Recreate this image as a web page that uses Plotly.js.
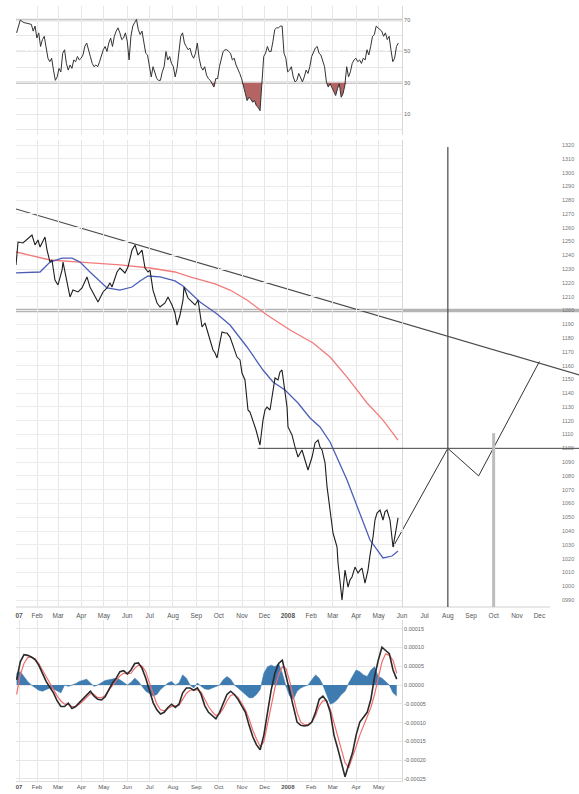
<!DOCTYPE html>
<html><head><meta charset="utf-8">
<script src="https://cdn.plot.ly/plotly-3.0.1.min.js"></script>
<style>html,body{margin:0;padding:0;background:#fff}#chart{width:579px;height:794px}</style>
</head><body><div id="chart"></div>
<script>
// ---------- DATA ----------
// time is given as days since 2007-01-01
const priceDay = [
 3, 5.7, 12.3, 24.3, 28.3, 32.3, 35, 41.6, 44.3, 48.3,
 50.9, 54.9, 58.9, 64.3, 65.6, 70.9, 74.9, 78.9, 85.6, 90.9,
 97.5, 101.5, 108.2, 112.2, 118.9, 124.2, 128.2, 130.8, 137.5, 141.5,
 148.1, 152.1, 157.5, 161.5, 165.5, 170.8, 174.8, 178.8, 181.4, 185.4,
 190.8, 194.8, 201.4, 205.4, 210.7, 214.7, 217.4, 221.4, 225.4, 226.7,
 232, 237.4, 241.4, 245.4, 250.7, 254.7, 257.3, 261.3, 265.3, 268,
 270.7, 274.6, 277.3, 281.3, 284, 288, 290.6, 294.6, 297.3, 301.3,
 303.9, 307.9, 311.9, 314.6, 318.6, 322.6, 327.9, 331.9, 334.6, 337.2,
 341.2, 343.9, 347.9, 351.9, 354.5, 357.2, 361.2, 363.9, 365.2, 370.5,
 374.5, 378.5, 383.8, 387.8, 391.8, 397.2, 401.2, 405.2, 407.8, 410.5,
 414.5, 417.2, 421.2, 425.1, 427.8, 430.5, 431.8, 434.4, 437.1, 441.1,
 445.1, 447.7, 450.4, 454.4, 458.4, 461.1, 463.7, 467.7, 471.7, 474.4,
 477.1, 478.4, 481, 483.7, 487.7, 491.7, 494.3, 497, 501, 505,
 509, 511.7];
const priceVal = [
 1233.0, 1249.6, 1248.9, 1254.7, 1247.5, 1251.1, 1246.0, 1253.3, 1243.8, 1235.1,
 1236.6, 1222.1, 1218.5, 1229.3, 1235.1, 1222.1, 1209.8, 1214.8, 1213.4, 1216.3,
 1224.3, 1217.0, 1209.8, 1206.1, 1213.4, 1216.3, 1220.0, 1217.0, 1227.9, 1230.8,
 1227.2, 1231.5, 1243.8, 1247.5, 1240.2, 1243.8, 1230.8, 1227.9, 1229.3, 1214.8,
 1205.4, 1202.5, 1205.4, 1209.8, 1204.0, 1198.2, 1189.4, 1196.7, 1207.6, 1217.0,
 1209.0, 1206.1, 1204.0, 1207.6, 1188.0, 1190.9, 1185.8, 1178.6, 1171.3, 1169.1,
 1165.5, 1177.1, 1184.4, 1183.6, 1183.6, 1180.7, 1176.4, 1169.1, 1166.2, 1164.1,
 1154.6, 1149.6, 1127.8, 1126.3, 1120.5, 1113.3, 1102.4, 1120.5, 1127.8, 1129.9,
 1127.8, 1138.7, 1151.0, 1149.6, 1155.4, 1156.8, 1140.1, 1129.9, 1115.5, 1109.7,
 1101.0, 1093.7, 1098.8, 1091.5, 1084.3, 1093.7, 1103.9, 1106.0, 1101.0, 1098.8,
 1089.4, 1072.0, 1053.1, 1038.6, 1033.5, 1028.4, 1016.8, 1004.5, 990.0, 1011.7,
 999.4, 1004.5, 1006.7, 1013.9, 1009.6, 1011.7, 1013.2, 1002.3, 1011.7, 1022.6,
 1031.3, 1035.7, 1048.0, 1053.1, 1055.3, 1048.0, 1053.9, 1055.3, 1048.0, 1028.4,
 1040.8, 1049.5];

const maShortDay = [3, 35, 48.3, 64.3, 77.6, 88.2, 101.5, 124.2, 141.5, 157.5, 168.1, 178.8, 194.8, 214.7, 225.4, 248, 270.7, 288, 310.6, 331.9, 345.2, 361.2, 378.5, 394.5, 407.8, 421.2, 443.8, 461.1, 474.4, 491.7, 503.7, 511.7];
const maShortVal = [1227.2, 1227.9, 1235.1, 1238.0, 1238.0, 1235.1, 1227.9, 1216.3, 1214.8, 1217.0, 1221.4, 1225.0, 1224.3, 1221.4, 1217.7, 1206.1, 1197.4, 1189.4, 1173.5, 1156.8, 1148.1, 1142.3, 1132.9, 1122.0, 1115.5, 1104.6, 1077.0, 1053.1, 1033.5, 1020.5, 1021.9, 1025.5];

const maLongDay = [3, 48.3, 88.2, 141.5, 181.4, 214.7, 234.7, 268, 288, 310.6, 337.2, 367.9, 398.5, 421.2, 443.8, 470.4, 491.7, 511.7];
const maLongVal = [1242.4, 1236.6, 1235.1, 1233.0, 1230.8, 1227.9, 1224.3, 1219.2, 1214.8, 1207.6, 1196.7, 1185.8, 1176.4, 1166.2, 1151.7, 1132.9, 1120.5, 1106.0];

const trendDates = ['2007-01-04', '2009-01-23'];
const trendVals = [1273.6, 1153.2];
const projDates = ['2008-05-20', '2008-08-01', '2008-09-11', '2008-12-01'];
const projVals = [1028.4, 1100, 1080, 1163];
const supportLevel = 1100, supportFrom = '2007-11-22';
const resistLevel = 1200;
const markAug = '2008-08-01', markAugTop = 1318.5;
const markOct = '2008-10-01', markOctTop = 1111;

// RSI readings, one every 2.4555 days from day 3.8
const rsiFirstDay = 3.8, rsiEveryDays = 2.4555;
const rsiVal = [
 61.8, 66.1, 70.0, 69.1, 68.3, 68.1, 67.8, 67.6, 67.2, 62.9,
 66.1, 58.5, 61.8, 53.1, 57.5, 59.6, 53.1, 45.6, 43.4, 45.6,
 38.0, 31.5, 33.7, 39.1, 36.9, 48.8, 51.0, 42.3, 38.0, 41.3,
 39.1, 44.5, 43.4, 46.7, 44.5, 45.6, 47.7, 53.1, 55.3, 49.9,
 46.7, 42.3, 40.2, 41.3, 40.2, 43.4, 47.1, 51.0, 53.1, 49.9,
 55.3, 58.5, 53.1, 59.6, 62.9, 65.0, 61.8, 57.5, 58.5, 61.8,
 56.4, 44.5, 59.6, 66.1, 68.3, 70.4, 63.9, 60.7, 62.9, 55.3,
 48.8, 47.7, 40.2, 33.7, 40.2, 35.9, 32.6, 31.5, 31.5, 36.9,
 40.2, 49.9, 44.5, 46.7, 42.3, 40.2, 33.7, 39.1, 51.0, 59.6,
 61.8, 55.3, 53.1, 51.0, 52.1, 47.7, 45.6, 48.8, 55.3, 45.6,
 40.2, 38.0, 40.2, 34.8, 32.6, 31.5, 29.4, 27.2, 32.6, 32.6,
 40.2, 45.6, 49.9, 51.0, 51.0, 49.9, 48.8, 44.5, 45.6, 41.3,
 39.1, 35.9, 32.6, 28.3, 22.9, 18.6, 20.7, 19.6, 17.5, 18.6,
 15.3, 14.2, 12.1, 29.4, 46.7, 48.8, 53.1, 49.9, 49.9, 56.4,
 63.9, 65.0, 65.0, 66.1, 66.1, 48.8, 45.6, 36.9, 38.0, 40.2,
 33.7, 30.5, 31.5, 35.9, 33.7, 30.5, 33.7, 38.0, 35.9, 40.2,
 46.7, 49.9, 52.1, 53.1, 48.8, 47.7, 43.4, 40.2, 30.5, 27.2,
 29.4, 27.2, 24.0, 21.8, 26.1, 29.4, 20.7, 22.9, 28.3, 40.2,
 33.7, 36.9, 42.3, 44.5, 45.6, 43.4, 44.5, 42.3, 45.6, 44.5,
 51.0, 47.7, 53.1, 59.6, 60.7, 66.1, 65.0, 63.9, 62.9, 59.6,
 61.8, 57.5, 59.6, 51.0, 43.4, 45.6, 53.1, 55.3];

// MACD readings (in units of 1e-5), one every 4.914 days from day 3.8
const macdFirstDay = 3.8, macdEveryDays = 4.914;
const macdE5 = [
 1.39, 6.15, 8.06, 7.89, 7.45, 6.76, 5.29, 3.12, 0.95, -0.61,
 -2.08, -4.25, -5.72, -5.72, -4.85, -6.24, -5.72, -4.68, -3.64, -2.51,
 -1.65, -2.95, -3.81, -3.99, -3.12, -1.21, 0.52, 1.82, 3.55, 3.81,
 2.95, 3.99, 5.72, 5.89, 4.42, 1.82, -1.21, -4.68, -6.59, -7.71,
 -7.28, -5.98, -5.11, -5.98, -5.11, -2.08, -0.78, -0.78, -1.39, -0.78,
 -2.51, -5.55, -7.28, -8.15, -9.01, -7.28, -4.68, -2.51, -1.65, -2.51,
 -3.81, -5.55, -7.28, -10.74, -13.78, -15.94, -17.24, -13.34, -7.28, -1.21,
 3.12, 5.72, 6.59, 2.25, -2.08, -6.41, -9.88, -10.74, -10.92, -10.74,
 -9.88, -7.28, -3.81, -2.95, -4.25, -7.28, -13.34, -16.81, -20.28, -24.44,
 -21.14, -18.11, -13.34, -9.88, -8.58, -7.28, -3.81, 2.25, 6.59, 10.05,
 9.18, 8.32, 3.99, 1.56];
const signalE5 = [
 -2.51, 2.69, 5.72, 7.28, 7.45, 7.02, 5.72, 3.99, 2.25, 0.52,
 -1.21, -2.95, -4.25, -5.11, -5.11, -5.72, -5.72, -5.11, -4.25, -3.38,
 -2.25, -2.51, -3.38, -3.38, -2.77, -1.39, 0.09, 1.21, 2.43, 3.12,
 2.95, 3.12, 4.42, 5.29, 5.03, 3.55, 0.52, -2.51, -5.11, -6.59,
 -6.85, -6.24, -5.72, -5.55, -5.37, -3.81, -2.25, -1.39, -1.39, -1.21,
 -1.91, -3.81, -5.72, -7.11, -8.15, -7.71, -6.24, -4.25, -2.77, -2.51,
 -3.38, -4.85, -6.59, -9.01, -12.04, -14.38, -16.38, -15.08, -10.74, -5.55,
 -0.78, 2.69, 4.85, 4.42, 0.95, -2.95, -7.28, -9.88, -10.57, -10.48,
 -9.88, -8.15, -5.55, -4.25, -4.25, -6.41, -9.88, -13.34, -17.24, -20.71,
 -22.01, -19.41, -16.38, -13.34, -10.74, -8.58, -5.98, -2.51, 2.25, 6.15,
 8.32, 7.89, 6.59, 3.12];
const histE5 = [
 3.12, 3.55, 2.25, 0.95, 0, -0.78, -1.39, -1.65, -1.21, -0.78,
 -1.04, -1.65, -2.08, 0, -0.35, 0, 0.35, 0.95, 1.21, 1.56,
 0.52, -0.35, 0, 0.52, 1.21, 1.39, 1.56, 1.82, 1.39, 0.69,
 0, 0.69, 1.82, 0.95, -0.35, -1.65, -2.25, -2.95, -2.51, -1.21,
 -0.35, 0.52, 0.95, 0, 0.52, 2.69, 1.82, 0, -0.78, 0.52,
 -0.35, -1.04, -1.21, -0.78, -0.35, 0, 1.39, 2.25, 1.56, 0,
 -0.78, -1.65, -2.51, -3.38, -3.38, -2.51, -1.21, 3.12, 4.85, 5.29,
 4.85, 5.72, 3.12, -0.35, -2.95, -3.81, -1.65, -0.78, -0.35, 0,
 1.39, 2.69, 1.82, 0, -2.51, -5.11, -4.68, -3.81, -2.51, -1.65,
 0.52, 2.25, 3.99, 3.55, 2.69, 2.25, 3.99, 4.85, 2.25, 1.82,
 0.95, 0, -2.08, -2.95];

const monthNames = ['Jan','Feb','Mar','Apr','May','Jun','Jul','Aug','Sep','Oct','Nov','Dec'];
const priceTicks = [];
for (let v = 990; v <= 1320; v += 10) priceTicks.push(v);
const rsiTicks = [0,10,20,30,40,50,60,70,80];
const rsiTickText = ['','10','','30','','50','','70',''];
const macdTicksE5 = [-25,-20,-15,-10,-5,0,5,10,15];

// ---------- helpers ----------
const DAY0 = Date.UTC(2007,0,1);
const toDate = d => new Date(DAY0 + d*86400000).toISOString().slice(0,19).replace('T',' ');
const seqDates = (first, step, n) => Array.from({length:n}, (_, i) => toDate(first + i*step));

const priceX = priceDay.map(toDate);
const maShortX = maShortDay.map(toDate);
const maLongX = maLongDay.map(toDate);
const rsiX = seqDates(rsiFirstDay, rsiEveryDays, rsiVal.length);
const macdX = seqDates(macdFirstDay, macdEveryDays, macdE5.length);
const macd = macdE5.map(v => v*1e-5), signal = signalE5.map(v => v*1e-5), hist = histE5.map(v => v*1e-5);

// ---------- layout geometry ----------
const W = 579, H = 794, L = 16;
const pw = W - L;
const PX_PER_DAY = 0.751;
const startDay = 3;
const mainEnd = toDate(startDay + pw/PX_PER_DAY);
const panelEndPx = 402;
const panelEnd = toDate(startDay + (panelEndPx-L)/PX_PER_DAY);
const panelDom = [0, (panelEndPx-L)/pw];
const yf = y => (H - y)/H;

// month ticks
function monthTicks(toY, toM){
  const v=[], t=[];
  v.push('2007-01-08'); t.push('<b>07</b>');
  for (let y=2007; y<=toY; y++){
    for (let m=(y===2007?1:0); m<12; m++){
      if (y===toY && m>toM) break;
      v.push(`${y}-${String(m+1).padStart(2,'0')}-01`);
      t.push(m===0 ? `<b>${y}</b>` : monthNames[m]);
    }
  }
  return {v,t};
}
const mainT = monthTicks(2008, 11);
const panelT = monthTicks(2008, 4);
const gridMonths = [];
for (let y=2007; y<=2008; y++) for (let m=0; m<12; m++){
  const s = `${y}-${String(m+1).padStart(2,'0')}-01`;
  if (s > '2007-01-04' && s <= '2008-06-01') gridMonths.push(s);
}

const mainY = [yf(607), yf(140)];
const mainRange = [990 - (607-600)/1.3788, 1320 + (145-140)/1.3788];
const rsiRange = [70 - (135-20)/1.567, 70 + (20-6)/1.567];
const macdDom = [yf(781), yf(620)];
const macdRange = [-25.55e-5, 17.3e-5];

const tf = {family:'Liberation Sans, Arial, sans-serif', size:6, color:'#666'};

const traces = [
  // main panel (grid side)
  {x:maLongX, y:maLongVal, xaxis:'x2', yaxis:'y4', mode:'lines', line:{color:'#f27b7b', width:1.3}, hoverinfo:'skip'},
  {x:maShortX, y:maShortVal, xaxis:'x2', yaxis:'y4', mode:'lines', line:{color:'#4c5fb8', width:1.3}, hoverinfo:'skip'},
  {x:priceX, y:priceVal, xaxis:'x2', yaxis:'y4', mode:'lines', line:{color:'#1e1e1e', width:1.1}, hoverinfo:'skip'},
  // annotations drawn as lines on full-width axis
  {x:trendDates, y:trendVals, xaxis:'x', yaxis:'y', mode:'lines', line:{color:'#4a4a4a', width:1.2}, hoverinfo:'skip'},
  {x:projDates, y:projVals, xaxis:'x', yaxis:'y', mode:'lines', line:{color:'#333', width:1}, hoverinfo:'skip'},
  // RSI
  {x:rsiX, y:rsiVal.map(()=>30), xaxis:'x2', yaxis:'y2', mode:'lines', line:{width:0}, hoverinfo:'skip'},
  {x:rsiX, y:rsiVal.map(v=>Math.min(v,30)), xaxis:'x2', yaxis:'y2', mode:'lines', line:{width:0}, fill:'tonexty', fillcolor:'#b56464', hoverinfo:'skip'},
  {x:rsiX, y:rsiVal, xaxis:'x2', yaxis:'y2', mode:'lines', line:{color:'#333', width:1}, hoverinfo:'skip'},
  // MACD
  {x:macdX, y:hist, xaxis:'x3', yaxis:'y3', mode:'lines', line:{color:'#3d7bb0', width:0.6}, fill:'tozeroy', fillcolor:'#3d7bb0', hoverinfo:'skip'},
  {x:macdX, y:signal, xaxis:'x3', yaxis:'y3', mode:'lines', line:{color:'#f06c6c', width:1.2}, hoverinfo:'skip'},
  {x:macdX, y:macd, xaxis:'x3', yaxis:'y3', mode:'lines', line:{color:'#2a2a2a', width:1.6}, hoverinfo:'skip'}
];

const gridC = '#e6e6e6';
const layout = {
  width:W, height:H, margin:{l:L, r:0, t:0, b:0},
  paper_bgcolor:'#ffffff', plot_bgcolor:'rgba(0,0,0,0)', showlegend:false,
  font:tf,
  xaxis:{type:'date', domain:[0,1], range:['2007-01-04', mainEnd], anchor:'y', showgrid:false, zeroline:false,
         tickmode:'array', tickvals:mainT.v, ticktext:mainT.t, ticks:'', ticklabelstandoff:3, tickfont:{...tf, size:6.5, color:'#555'}},
  yaxis:{domain:mainY, range:mainRange, anchor:'free', position:(561-L)/pw, side:'right', showgrid:false, zeroline:false,
         tickmode:'array', tickvals:priceTicks, ticktext:priceTicks.map(v=> v<1000 ? '0'+v : String(v)), ticks:'', tickfont:{...tf, size:5.5, color:'#777'}},
  yaxis4:{domain:mainY, range:mainRange, anchor:'x2', side:'right', showgrid:true, gridcolor:'#ececec', zeroline:false,
          tickmode:'linear', tick0:990, dtick:10, showticklabels:false, ticks:'', showline:true, linecolor:'#d8d8d8'},
  xaxis2:{type:'date', domain:panelDom, range:['2007-01-04', panelEnd], anchor:'y2', showgrid:true, gridcolor:gridC, zeroline:false,
          tickmode:'array', tickvals:gridMonths, showticklabels:false, ticks:''},
  yaxis2:{domain:[yf(135), yf(6)], range:rsiRange, anchor:'x2', side:'right', showgrid:true, gridcolor:gridC, zeroline:false,
          tickmode:'array', tickvals:rsiTicks, ticktext:rsiTickText, ticks:'', showline:true, linecolor:'#d8d8d8', tickfont:{...tf, size:5.5}},
  xaxis3:{type:'date', domain:panelDom, range:['2007-01-04', panelEnd], anchor:'y3', showgrid:true, gridcolor:gridC, zeroline:false,
          tickmode:'array', tickvals:[...panelT.v], ticktext:panelT.t, ticks:'', ticklabelstandoff:0, showline:true, linecolor:'#dcdcdc',
          tickfont:{...tf, size:6, color:'#555'}},
  yaxis3:{domain:macdDom, range:macdRange, anchor:'x3', side:'right', showgrid:true, gridcolor:gridC, zeroline:false,
          tickmode:'array', tickvals:macdTicksE5.map(v=>v*1e-5), ticktext:macdTicksE5.map(v=>(v*1e-5).toFixed(5)),
          ticks:'', showline:true, linecolor:'#d8d8d8', tickfont:{...tf, size:5.5}},
  shapes:[
    {type:'line', layer:'below', xref:'x2 domain', yref:'y2', x0:0, x1:1, y0:70, y1:70, line:{color:'#c8c8c8', width:2.5}},
    {type:'line', layer:'below', xref:'x2 domain', yref:'y2', x0:0, x1:1, y0:30, y1:30, line:{color:'#c8c8c8', width:2.5}},
    {type:'line', layer:'below', xref:'x2 domain', yref:'y2', x0:0, x1:1, y0:50, y1:50, line:{color:'#9a9a9a', width:1, dash:'dashdot'}},
    {type:'line', layer:'below', xref:'paper', yref:'y', x0:0, x1:1, y0:resistLevel, y1:resistLevel, line:{color:'#b4b4b4', width:3.5}},
    {type:'line', layer:'above', xref:'x', yref:'y', x0:supportFrom, x1:mainEnd, y0:supportLevel, y1:supportLevel, line:{color:'#444', width:1}},
    {type:'line', layer:'above', xref:'x', yref:'y', x0:markAug, x1:markAug, y0:mainRange[0], y1:markAugTop, line:{color:'#555', width:1.3}},
    {type:'line', layer:'above', xref:'x', yref:'y', x0:markOct, x1:markOct, y0:mainRange[0], y1:markOctTop, line:{color:'#bdbdbd', width:3}},
    {type:'line', layer:'below', xref:'x', yref:'paper', x0:'2007-01-04', x1:'2008-12-15', y0:mainY[0], y1:mainY[0], line:{color:'#d0d0d0', width:1}}
  ]
};

Plotly.newPlot('chart', traces, layout, {staticPlot:true, displayModeBar:false});
</script>
</body></html>
